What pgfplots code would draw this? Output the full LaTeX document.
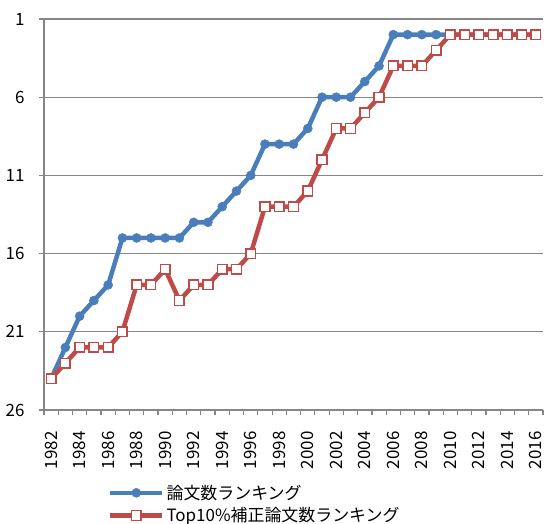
\documentclass[border=0pt]{standalone}
\usepackage{fontspec}
\setmainfont{Noto Sans CJK JP}
\usepackage{pgfplots}
\pgfplotsset{compat=1.18}
\definecolor{xblue}{HTML}{4A7EBB}
\definecolor{xred}{HTML}{BE4B48}
\definecolor{xgray}{HTML}{868686}
\begin{document}
\begin{tikzpicture}
\begin{axis}[
    name=ax,
    scale only axis,
    width=499bp, height=391bp,
    xmin=1981.5, xmax=2016.5,
    ymin=1, ymax=26,
    y dir=reverse,
    axis x line*=bottom,
    axis y line*=left,
    axis line style={xgray, line width=1.5bp},
    ytick={1,6,11,16,21,26},
    ymajorgrids=true,
    grid style={xgray, line width=1.2bp},
    xtick={1982,1984,...,2016},
    minor xtick={1981.5,1982.5,...,2016.5},
    major tick length=5bp,
    minor tick length=5bp,
    tick align=outside,
    tick style={xgray, line width=1.2bp},
    x tick style={draw=none},
    minor x tick style={draw=xgray, line width=1.2bp},
    xticklabel style={rotate=90, anchor=east, xshift=-13bp},
    /pgf/number format/assume math mode=true,
    /pgf/number format/1000 sep={},
    ticklabel style={font=\fontsize{17}{20}\selectfont, text=black},
    yticklabel style={xshift=-11bp},
    legend style={draw=none, fill=none, at={(0.128,-0.186)}, anchor=north west,
        font=\fontsize{17}{20}\selectfont, row sep=3bp, inner sep=0bp,
        nodes={inner sep=2bp}},
    legend cell align=left,
    legend image code/.code={
        \draw[#1, mark repeat=2, mark phase=2] plot coordinates {(0bp,0bp) (26bp,0bp) (52bp,0bp)};
    },
]
\addplot[xblue, line width=4.5bp, mark=*, mark size=4.5bp, mark options={solid, line width=0.5bp, draw=xblue, fill=xblue}]
coordinates {
(1982,24) (1983,22) (1984,20) (1985,19) (1986,18) (1987,15) (1988,15) (1989,15)
(1990,15) (1991,15) (1992,14) (1993,14) (1994,13) (1995,12) (1996,11) (1997,9)
(1998,9) (1999,9) (2000,8) (2001,6) (2002,6) (2003,6) (2004,5) (2005,4)
(2006,2) (2007,2) (2008,2) (2009,2) (2010,2) (2011,2) (2012,2) (2013,2)
(2014,2) (2015,2) (2016,2)
};
\addlegendentry{論文数ランキング}
\addplot[xred, line width=4.5bp, mark=square*, mark size=4.8bp, mark options={solid, line width=1.5bp, draw=xred, fill=white}]
coordinates {
(1982,24) (1983,23) (1984,22) (1985,22) (1986,22) (1987,21) (1988,18) (1989,18)
(1990,17) (1991,19) (1992,18) (1993,18) (1994,17) (1995,17) (1996,16) (1997,13)
(1998,13) (1999,13) (2000,12) (2001,10) (2002,8) (2003,8) (2004,7) (2005,6)
(2006,4) (2007,4) (2008,4) (2009,3) (2010,2) (2011,2) (2012,2) (2013,2)
(2014,2) (2015,2) (2016,2)
};
\addlegendentry{Top10\%補正論文数ランキング}
\end{axis}
\pgfresetboundingbox
\path[use as bounding box] ([xshift=-44bp,yshift=-114bp]ax.south west) rectangle ([xshift=1bp,yshift=19bp]ax.north east);
\end{tikzpicture}
\end{document}
